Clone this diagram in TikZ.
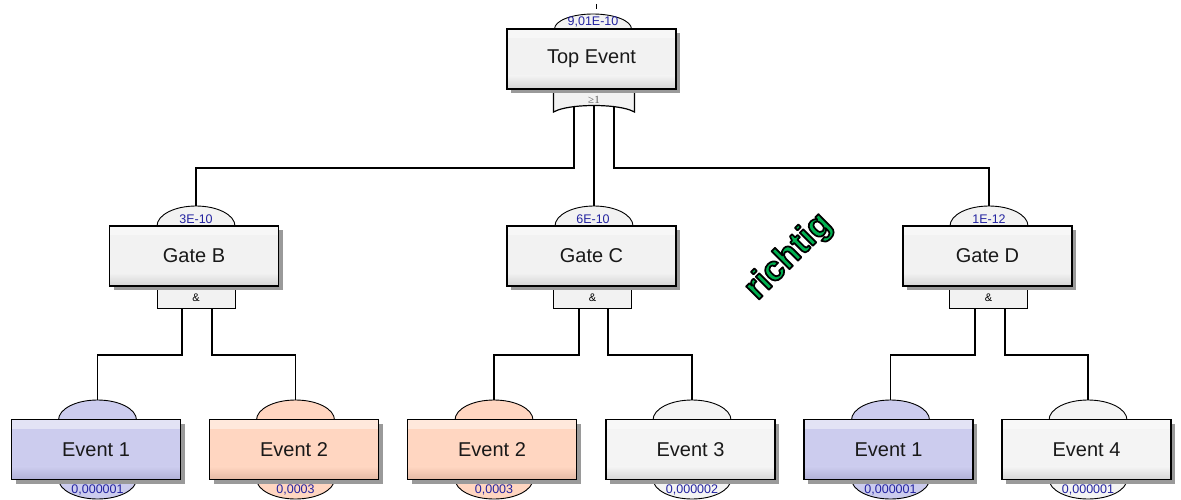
\documentclass[tikz,border=0pt]{standalone}
\usepackage{fontspec}
\setmainfont{Liberation Sans}
\newfontfamily\serifgeq{Liberation Serif}
\usetikzlibrary{shapes.geometric}
\definecolor{gfill}{HTML}{F2F2F2}
\definecolor{gdark}{HTML}{D4D4D4}
\definecolor{evA}{HTML}{CCCCEE}
\definecolor{evAd}{HTML}{B0B0D6}
\definecolor{evB}{HTML}{FFD6C1}
\definecolor{evBd}{HTML}{E4B9A4}
\definecolor{evC}{HTML}{F4F4F4}
\definecolor{evCd}{HTML}{D6D6D6}
\definecolor{valc}{RGB}{35,35,160}
\definecolor{shad}{HTML}{9A9A9A}
\definecolor{rgreen}{RGB}{0,176,80}
\newcommand\outlined[1]{{\color{rgreen}\special{pdf:literal direct 0 0 0 RG 1.7 w 1 j 2 Tr}#1\special{pdf:literal direct 0 Tr}}}
\newcommand\ftbox[6]{%
  \fill[shad] ({#2-80.5},{#3-26}) rectangle ({#2+88.5},{#3+34});
  \fill[#4] ({#2-84.5},{#3-30}) rectangle ({#2+84.5},{#3+30});
  \fill[white,opacity=0.45] ({#2-84.5},{#3-30}) rectangle ({#2+84.5},{#3-21});
  \shade[top color=#4,bottom color=#5] ({#2-84.5},{#3+17}) rectangle ({#2+84.5},{#3+30});
  \node[boxst] (#1) at (#2,#3) {#6};
}
\tikzset{
  boxst/.style={draw=black,line width=1.4pt,minimum width=169pt,minimum height=60pt,inner sep=0pt,font=\fontsize{20}{24}\selectfont,text=black!90},
  capst/.style={ellipse,draw=black,line width=0.9pt,minimum width=78pt,minimum height=40pt,inner sep=0pt},
  valst/.style={font=\fontsize{12.5}{14}\selectfont,text=valc,inner sep=0pt},
  andst/.style={draw=black,line width=1pt,fill=gfill,minimum width=78pt,minimum height=21pt,inner sep=0pt,font=\fontsize{11}{13}\selectfont},
  conn/.style={draw=black,line width=1.3pt}
}
\begin{document}
\begin{tikzpicture}[x=1pt,y=-1pt]
\useasboundingbox (0,0) rectangle (1181,500);
\fill[white] (0,0) rectangle (1181,500);
% ---------- Gate caps ----------
\node[capst,fill=gfill] (capB) at (196,226) {};
\node[capst,fill=gfill] (capC) at (594,226) {};
\node[capst,fill=gfill] (capD) at (989,226) {};
\node[valst] (vB) at (196,219) {3E-10};
\node[valst] (vC) at (593,219) {6E-10};
\node[valst] (vD) at (989,219) {1E-12};
% ---------- Top event ----------
\coordinate (topin) at (596,4);
\draw[line width=1pt] (topin) -- ++(0,5);
\node[capst,fill=gfill,minimum height=30pt,minimum width=77pt] (capT) at (593,29) {};
\node[valst] (vT) at (593,22) {9,01E-10};
\coordinate (o1) at (574,106);
\coordinate (o2) at (594,104);
\coordinate (o3) at (614,106);
\draw[conn] (o1) -- (574,168) -| (capB.north);
\draw[conn] (o2) -- (o2 |- capC.north);
\draw[conn] (o3) -- (614,168) -| (capD.north);
\path[draw=black,line width=1.2pt,fill=gfill] (553.5,86) -- (553.5,112) .. controls (555,111) .. (558,110) .. controls (575,104) and (613,104) .. (630,110) .. controls (633,111) .. (634.5,112) -- (634.5,86) -- cycle;
\node[font=\serifgeq\fontsize{11}{12}\selectfont,text=black!65,inner sep=0pt] (orlab) at (594,100) {≥1};
\ftbox{top}{591.5}{59}{gfill}{gdark}{Top Event}
% ---------- Gates ----------
\node[andst] (andB) at (196,298) {\&};
\node[andst] (andC) at (592.5,298) {\&};
\node[andst] (andD) at (988.5,298) {\&};
\ftbox{gB}{194}{256}{gfill}{gdark}{Gate B}
\ftbox{gC}{591.5}{256}{gfill}{gdark}{Gate C}
\ftbox{gD}{987.5}{256}{gfill}{gdark}{Gate D}
% ---------- Events ----------
\node[capst,fill=evA] (capE1) at (97.5,420) {};
\node[capst,fill=evB] (capE2) at (295.5,420) {};
\node[capst,fill=evB] (capE3) at (494,420) {};
\node[capst,fill=evC] (capE4) at (692,420) {};
\node[capst,fill=evA] (capE5) at (890.5,420) {};
\node[capst,fill=evC] (capE6) at (1088,420) {};
\node[capst,fill=evA] (botE1) at (97.5,479) {};
\node[capst,fill=evB] (botE2) at (295.5,479) {};
\node[capst,fill=evB] (botE3) at (494,479) {};
\node[capst,fill=evC] (botE4) at (692,479) {};
\node[capst,fill=evA] (botE5) at (890.5,479) {};
\node[capst,fill=evC] (botE6) at (1088,479) {};
\ftbox{e1}{96}{449.5}{evA}{evAd}{Event 1}
\ftbox{e2}{294}{449.5}{evB}{evBd}{Event 2}
\ftbox{e3}{492}{449.5}{evB}{evBd}{Event 2}
\ftbox{e4}{690.5}{449.5}{evC}{evCd}{Event 3}
\ftbox{e5}{888.5}{449.5}{evA}{evAd}{Event 1}
\ftbox{e6}{1086.5}{449.5}{evC}{evCd}{Event 4}
\node[valst] (v1) at (97.5,489.5) {0,000001};
\node[valst] (v2) at (295.5,489.5) {0,0003};
\node[valst] (v3) at (494,489.5) {0,0003};
\node[valst] (v4) at (692,489.5) {0,000002};
\node[valst] (v5) at (890.5,489.5) {0,000001};
\node[valst] (v6) at (1088,489.5) {0,000001};
% ---------- connectors from AND gates ----------
\coordinate (b1) at (182,308.5);
\coordinate (b2) at (212,308.5);
\coordinate (c1) at (579,308.5);
\coordinate (c2) at (608,308.5);
\coordinate (d1) at (975,308.5);
\coordinate (d2) at (1005,308.5);
\draw[conn] (b1) -- (182,355) -| (capE1.north);
\draw[conn] (b2) -- (212,355) -| (capE2.north);
\draw[conn] (c1) -- (579,355) -| (capE3.north);
\draw[conn] (c2) -- (608,355) -| (capE4.north);
\draw[conn] (d1) -- (975,355) -| (capE5.north);
\draw[conn] (d2) -- (1005,355) -| (capE6.north);
% ---------- stamp ----------
\node[rotate=45,inner sep=0pt,font=\fontsize{35}{38}\selectfont\bfseries] (stamp) at (789,257) {\outlined{richtig}};
\end{tikzpicture}
\end{document}
